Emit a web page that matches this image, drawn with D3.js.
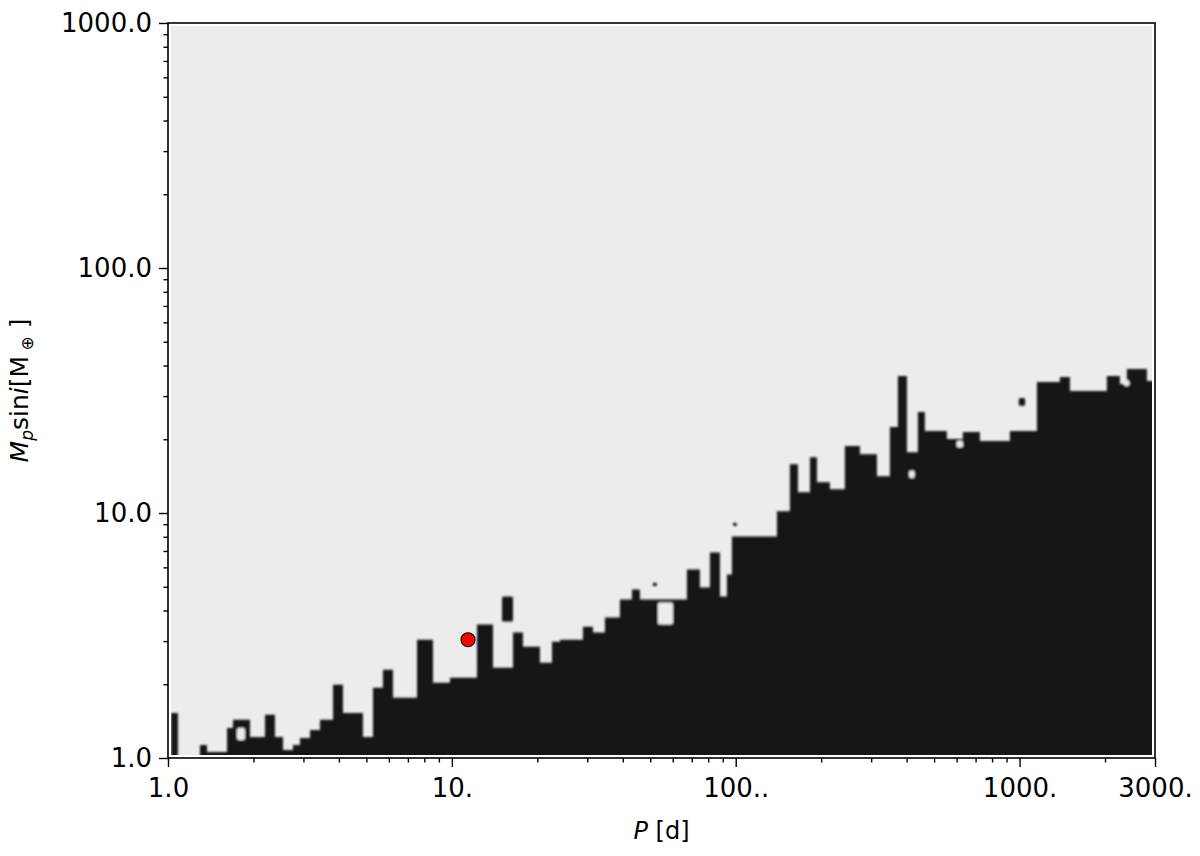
<!DOCTYPE html>
<html>
<head>
<meta charset="utf-8">
<script src="https://cdn.jsdelivr.net/npm/d3@7"></script>
<style>
  html, body { margin: 0; padding: 0; background: #ffffff; }
  svg { display: block; }
  text { font-family: "DejaVu Sans", sans-serif; fill: #000; }
</style>
</head>
<body>
<svg id="chart" width="1200" height="856"></svg>
<script>
// ---------------- data ----------------
// Left edges of the period columns of the detection-limit map [d]
const periodEdges = [
  1.025, 1.084, 1.296, 1.372, 1.614, 1.694, 1.945, 2.196, 2.381, 2.542,
  2.756, 2.917, 3.164, 3.431, 3.814, 4.135, 4.862, 5.274, 5.719, 6.202,
  7.537, 8.580, 9.847, 12.26, 13.96, 16.42, 17.80, 20.43, 22.53, 24.03,
  28.96, 31.41, 34.62, 39.09, 43.10, 45.98, 67.31, 74.79, 81.13, 87.99,
  93.11, 96.97, 139.7, 155.2, 165.6, 182.6, 193.2, 214.7, 242.4, 273.8,
  314.4, 349.3, 372.7, 400.9, 438.3, 463.8, 554.4, 631.4, 724.9, 924.5,
  1151, 1387, 1504, 2030, 2256, 2388, 2808, 3000
];
// Minimum detectable Mp sin i [M_earth] in each column (black below)
const massLimit = [
  1.528, 1.000, 1.130, 1.058, 1.327, 1.431, 1.219, 1.500, 1.219, 1.078,
  1.130, 1.207, 1.302, 1.431, 1.990, 1.528, 1.219, 1.934, 2.292, 1.761,
  3.041, 2.028, 2.125, 3.503, 2.336, 3.249, 2.847, 2.448, 2.984, 3.041,
  3.437, 3.249, 3.742, 4.434, 4.871, 4.434, 5.883, 4.965, 6.905, 4.560,
  5.612, 8.027, 10.16, 15.82, 12.15, 16.90, 13.36, 12.50, 18.75, 17.39,
  14.13, 22.43, 36.27, 17.72, 25.84, 21.60, 20.03, 21.40, 19.66, 21.60,
  34.28, 35.93, 31.50, 36.27, 33.64, 38.74, 34.60
];
// Isolated detectable patches: [P0, P1, M0, M1]
const islands = [
  [15.02, 16.42, 3.603, 4.560],
  [51.0, 52.8, 5.03, 5.19],
  [97.8, 101.0, 8.85, 9.13],
  [994, 1046, 27.4, 29.5]
];
// Undetectable pockets inside the black region: [P0, P1, M0, M1]
const holes = [
  [1.750, 1.867, 1.185, 1.327],
  [53.2, 60.1, 3.503, 4.310],
  [408, 427, 13.9, 14.9],
  [600, 632, 18.5, 19.7],
  [2330, 2440, 33.0, 34.8]
];
// Planet
const planetP = [11.4];
const planetM = [3.04];

const xTickValues = [1, 10, 100, 1000, 3000];
const xTickLabels = ["1.0", "10.", "100..", "1000.", "3000."];
const yTickValues = [1, 10, 100, 1000];
const yTickLabels = ["1.0", "10.0", "100.0", "1000.0"];

// ---------------- layout ----------------
const svg = d3.select("#chart");
const L = 168, R = 1155, T = 23, B = 758;
const inset = 3;

const x = d3.scaleLog().domain([1, 3000]).range([L, R]);
const y = d3.scaleLog().domain([1, 1000]).range([B, T]);

const defs = svg.append("defs");
defs.append("clipPath").attr("id", "clip")
  .append("rect")
  .attr("x", L + inset).attr("y", T + inset)
  .attr("width", R - L - 2 * inset).attr("height", B - T - 2 * inset);
defs.append("filter").attr("id", "soft")
  .attr("x", "-5%").attr("y", "-5%").attr("width", "110%").attr("height", "110%")
  .append("feGaussianBlur").attr("stdDeviation", 1.2);

// frame background
svg.append("rect").attr("x", L).attr("y", T).attr("width", R - L).attr("height", B - T)
  .attr("fill", "#ffffff");
svg.append("rect")
  .attr("x", L + inset).attr("y", T + inset)
  .attr("width", R - L - 2 * inset).attr("height", B - T - 2 * inset)
  .attr("fill", "#ececec");

const plot = svg.append("g").attr("clip-path", "url(#clip)");
const map = plot.append("g").attr("filter", "url(#soft)");

// step-shaped detection limit
const pts = massLimit.map((m, i) => [periodEdges[i], m]);
pts.push([periodEdges[periodEdges.length - 1], massLimit[massLimit.length - 1]]);
const area = d3.area()
  .curve(d3.curveStepAfter)
  .x(d => x(d[0]))
  .y0(y(1) + 10)
  .y1(d => y(d[1]));
map.append("path").datum(pts).attr("d", area).attr("fill", "#141414");

map.selectAll("rect.island").data(islands).join("rect")
  .attr("class", "island")
  .attr("x", d => x(d[0])).attr("width", d => x(d[1]) - x(d[0]))
  .attr("y", d => y(d[3])).attr("height", d => y(d[2]) - y(d[3]))
  .attr("rx", 1.5)
  .attr("fill", "#141414");

map.selectAll("rect.hole").data(holes).join("rect")
  .attr("class", "hole")
  .attr("x", d => x(d[0])).attr("width", d => x(d[1]) - x(d[0]))
  .attr("y", d => y(d[3])).attr("height", d => y(d[2]) - y(d[3]))
  .attr("rx", 2)
  .attr("fill", "#ececec");

// planet
plot.selectAll("circle.planet").data(planetP.map((p, i) => [p, planetM[i]])).join("circle")
  .attr("class", "planet")
  .attr("cx", d => x(d[0])).attr("cy", d => y(d[1]))
  .attr("r", 7)
  .attr("fill", "#ff0000").attr("stroke", "#000").attr("stroke-width", 1.1);

// frame
svg.append("rect").attr("x", L).attr("y", T).attr("width", R - L).attr("height", B - T)
  .attr("fill", "none").attr("stroke", "#000").attr("stroke-width", 1.6);

// ---------------- axes ----------------
const xMinor = [];
const yMinor = [];
[1, 10, 100, 1000].forEach(dec => {
  for (let k = 2; k <= 9; k++) {
    if (dec * k < 3000) xMinor.push(dec * k);
    if (dec * k < 1000) yMinor.push(dec * k);
  }
});

function styleAxis(g) {
  g.select(".domain").remove();
  g.selectAll(".tick line").attr("stroke", "#000").attr("stroke-width", 1.4);
}

svg.append("g").attr("transform", `translate(0,${B})`)
  .call(d3.axisBottom(x).tickValues(xMinor).tickFormat("").tickSize(4.5))
  .call(styleAxis);
svg.append("g").attr("transform", `translate(0,${B})`)
  .call(d3.axisBottom(x).tickValues(xTickValues)
    .tickFormat((d, i) => xTickLabels[i]).tickSize(9).tickPadding(12))
  .call(styleAxis)
  .call(g => g.selectAll(".tick text")
    .attr("font-family", "DejaVu Sans").attr("font-size", 26).attr("fill", "#000"));

svg.append("g").attr("transform", `translate(${L},0)`)
  .call(d3.axisLeft(y).tickValues(yMinor).tickFormat("").tickSize(4.5))
  .call(styleAxis);
svg.append("g").attr("transform", `translate(${L},0)`)
  .call(d3.axisLeft(y).tickValues(yTickValues)
    .tickFormat((d, i) => yTickLabels[i]).tickSize(9).tickPadding(7))
  .call(styleAxis)
  .call(g => g.selectAll(".tick text")
    .attr("font-family", "DejaVu Sans").attr("font-size", 26).attr("fill", "#000"));

// axis titles
const xt = svg.append("text")
  .attr("x", (L + R) / 2).attr("y", 839)
  .attr("text-anchor", "middle").attr("font-size", 24);
xt.append("tspan").attr("font-style", "italic").text("P");
xt.append("tspan").text(" [d]");

const yt = svg.append("text")
  .attr("transform", `translate(28,${(T + B) / 2}) rotate(-90)`)
  .attr("text-anchor", "middle").attr("font-size", 25);
yt.append("tspan").attr("font-style", "italic").text("M");
yt.append("tspan").attr("font-style", "italic").attr("font-size", 17).attr("dy", 5).text("p");
yt.append("tspan").attr("dy", -5).text("sin");
yt.append("tspan").attr("font-style", "italic").text("i");
yt.append("tspan").text("[M");
yt.append("tspan").attr("font-size", 17).attr("dy", 5).text(" ⊕");
yt.append("tspan").attr("dy", -5).text(" ]");
</script>
</body>
</html>
